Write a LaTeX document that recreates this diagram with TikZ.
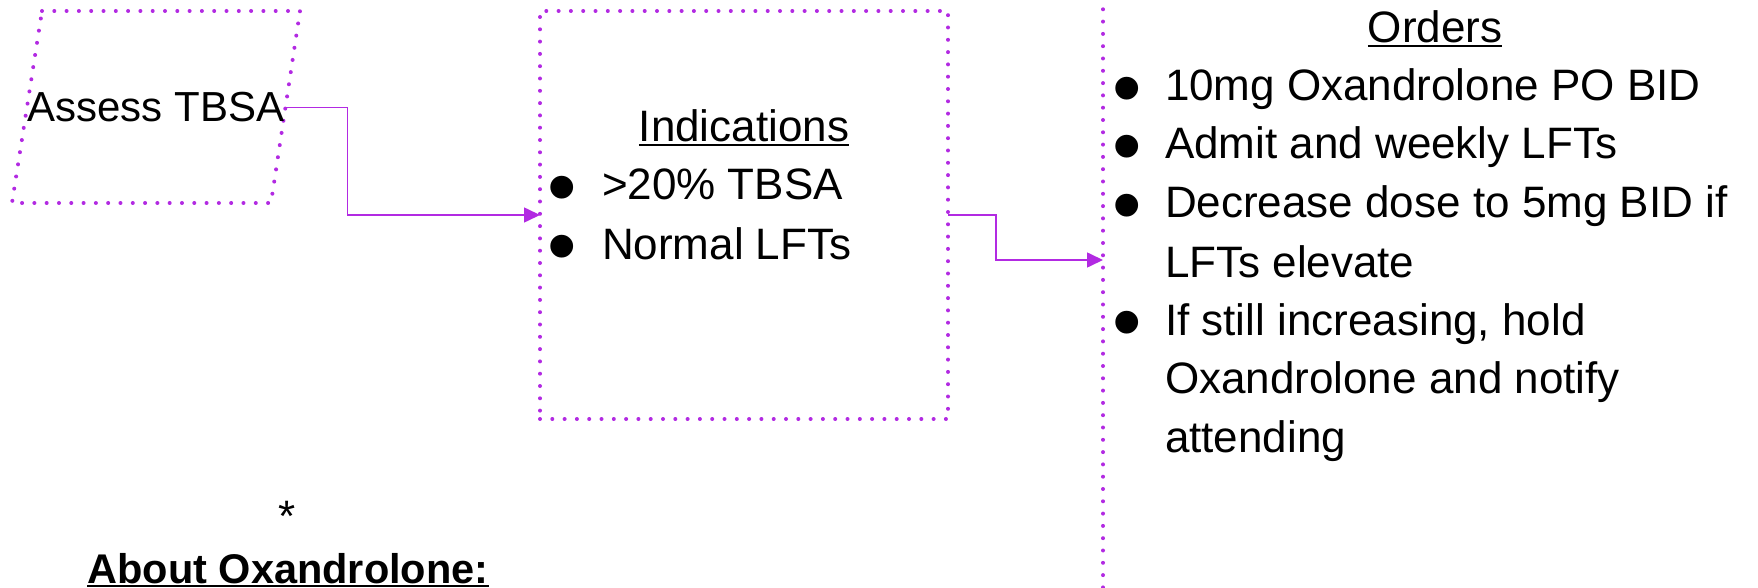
\documentclass[tikz,border=0pt]{standalone}
\usepackage{fontspec}
\setmainfont{Liberation Sans}
\usetikzlibrary{arrows.meta}
\definecolor{vio}{RGB}{178,42,226}
\newcommand{\myul}[2][-4pt]{\setbox0\hbox{#2}\rlap{\rule[#1]{\wd0}{2pt}}\box0}
\begin{document}
\begin{tikzpicture}[x=1pt,y=-1pt,
  dotline/.style={draw=vio, line width=4pt, line cap=round, dash pattern=on 0pt off 12.3pt},
  dotbox/.style={dotline, rectangle, inner sep=0pt, outer sep=0pt},
  conn/.style={draw=vio, line width=1.6pt, -{Triangle[length=16pt,width=15pt]}},
  lbl/.style={inner sep=0pt, outer sep=0pt, font=\fontsize{44}{50}\selectfont},
  bul/.style={inner sep=0pt, outer sep=0pt, anchor=base, font=\fontsize{84}{90}\selectfont}]
\useasboundingbox (0,0) rectangle (1758,588);
\clip (0,0) rectangle (1758,588);
% parallelogram
\draw[dotline] (42,11) -- (300,11) -- (271,203) -- (12,203) -- cycle;
\node[lbl, font=\fontsize{42}{48}\selectfont, anchor=base] (assess) at (156,122) {Assess TBSA};
% indications box
\node[dotbox, minimum width=408pt, minimum height=408pt] (box2) at (744,215) {};
\node[lbl, anchor=base] (indh) at (744,142) {\myul{Indications}};
\node[bul] (ib1) at (562,215.5) {\smash{•}};
\node[lbl, anchor=base west] (it1) at (602,200) {>20\% TBSA};
\node[bul] (ib2) at (562,274.5) {\smash{•}};
\node[lbl, anchor=base west] (it2) at (602,259) {Normal LFTs};
% orders box
\node[dotbox, minimum width=800pt, minimum height=700pt, anchor=north west] (box3) at (1103,-40) {};
\coordinate (ordersin) at (1103,260);
\node[lbl, anchor=base] (ordh) at (1435,43) {\myul{Orders}};
\node[bul] (ob1) at (1127,116.5) {\smash{•}};
\node[lbl, anchor=base west] (ot1) at (1165,101) {10mg Oxandrolone PO BID};
\node[bul] (ob2) at (1127,174.5) {\smash{•}};
\node[lbl, anchor=base west] (ot2) at (1165,159) {Admit and weekly LFTs};
\node[bul] (ob3) at (1127,233.5) {\smash{•}};
\node[lbl, anchor=base west] (ot3) at (1165,218) {Decrease dose to 5mg BID if};
\node[lbl, anchor=base west] (ot4) at (1165,277) {LFTs elevate};
\node[bul] (ob5) at (1127,350.5) {\smash{•}};
\node[lbl, anchor=base west] (ot5) at (1165,335) {If still increasing, hold};
\node[lbl, anchor=base west] (ot6) at (1165,393) {Oxandrolone and notify};
\node[lbl, anchor=base west] (ot7) at (1165,452) {attending};
% bottom notes
\node[lbl, anchor=base] (star) at (287,531) {*};
\node[lbl, anchor=base, font=\fontsize{41.5}{48}\selectfont\bfseries] (about) at (288,583) {\myul[-3.5pt]{About Oxandrolone:}};
% connectors
\draw[conn] (assess.east) -- ++(63,0) |- (box2.west);
\draw[conn] (box2.east) -- ++(48,0) |- (ordersin);
\end{tikzpicture}
\end{document}
